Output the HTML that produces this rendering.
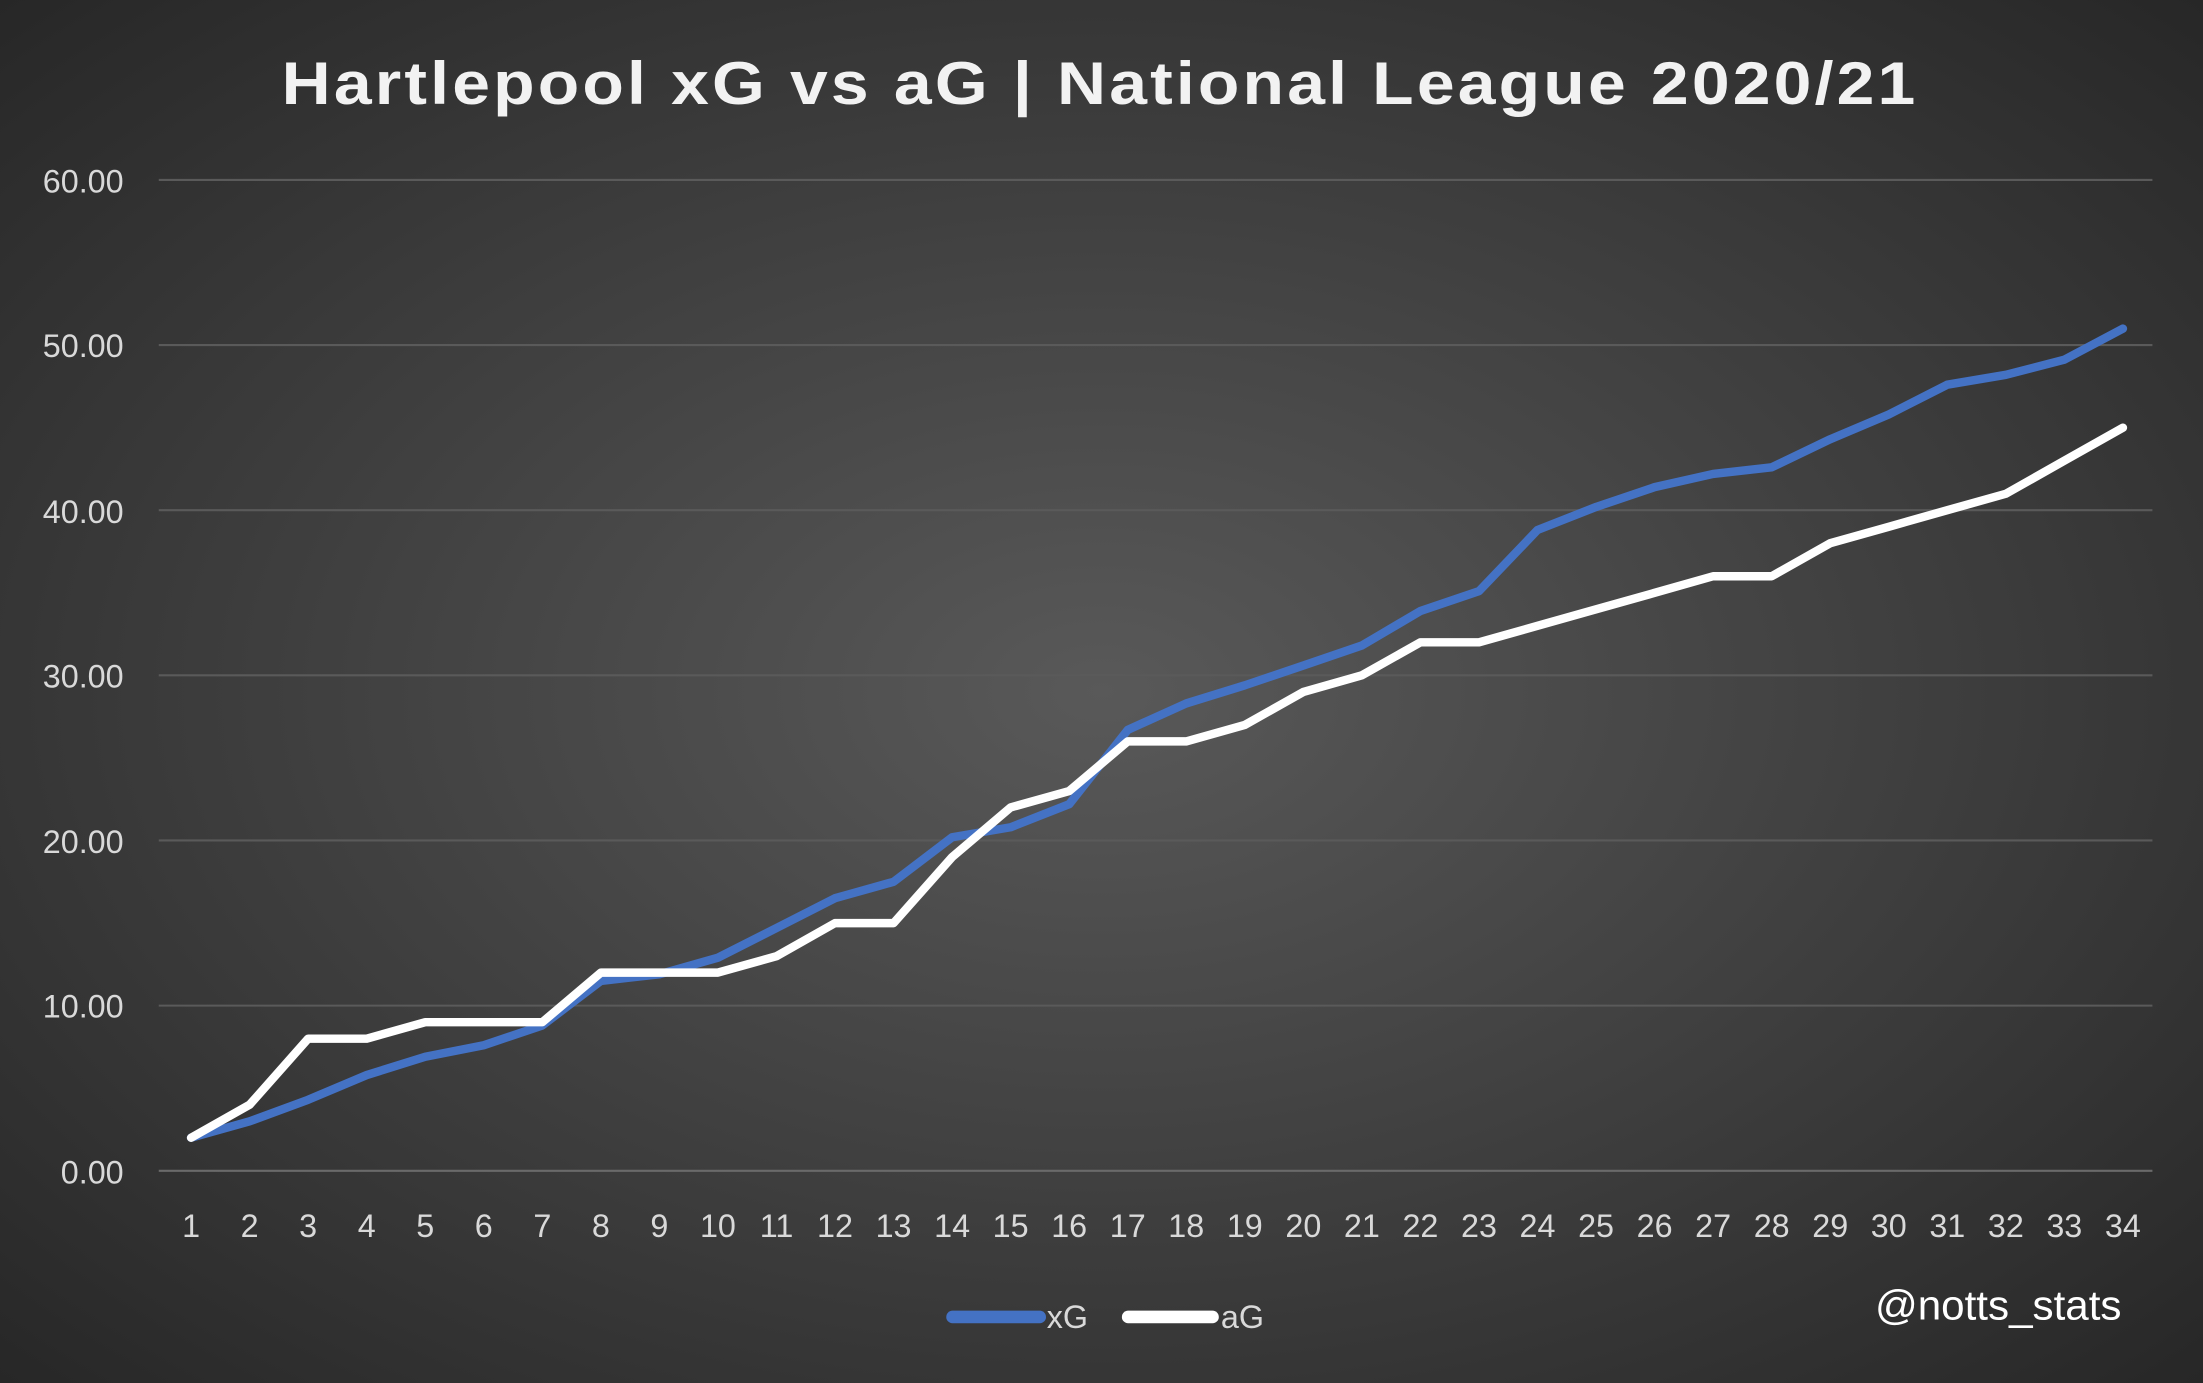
<!DOCTYPE html>
<html><head><meta charset="utf-8"><style>
html,body{margin:0;padding:0;width:2203px;height:1383px;overflow:hidden;background:#2a2a2a}
svg{display:block}
</style></head><body>
<svg width="2203" height="1383" viewBox="0 0 1568 984" preserveAspectRatio="none" xmlns="http://www.w3.org/2000/svg">
<defs>
<radialGradient id="bg" cx="0.5" cy="0.5" r="0.72">
<stop offset="0" stop-color="#595959"/>
<stop offset="1" stop-color="#262626"/>
</radialGradient>
</defs>
<rect width="1568" height="984" fill="url(#bg)"/>
<text x="783" y="74" text-anchor="middle" fill="#f2f2f2" font-family="Liberation Sans, sans-serif" font-weight="bold" font-size="43" letter-spacing="2" textLength="1165" lengthAdjust="spacingAndGlyphs">Hartlepool xG vs aG | National League 2020/21</text>
<g stroke="#5a5a5a" stroke-width="1.5">
<line x1="113" x2="1532" y1="128" y2="128"/>
<line x1="113" x2="1532" y1="245.5" y2="245.5"/>
<line x1="113" x2="1532" y1="363" y2="363"/>
<line x1="113" x2="1532" y1="480.5" y2="480.5"/>
<line x1="113" x2="1532" y1="598" y2="598"/>
<line x1="113" x2="1532" y1="715.5" y2="715.5"/>
<line x1="113" x2="1532" y1="833" y2="833" stroke="#6a6a6a"/>
</g>
<g fill="#d9d9d9" font-family="Liberation Sans, sans-serif" font-size="23" text-anchor="end">
<text x="88" y="137">60.00</text>
<text x="88" y="254">50.00</text>
<text x="88" y="372">40.00</text>
<text x="88" y="489">30.00</text>
<text x="88" y="607">20.00</text>
<text x="88" y="724">10.00</text>
<text x="88" y="842">0.00</text>
</g>
<g fill="#d9d9d9" font-family="Liberation Sans, sans-serif" font-size="23" text-anchor="middle">
<text x="136" y="880">1</text><text x="177.7" y="880">2</text><text x="219.3" y="880">3</text><text x="261" y="880">4</text><text x="302.7" y="880">5</text><text x="344.3" y="880">6</text><text x="386" y="880">7</text><text x="427.7" y="880">8</text><text x="469.3" y="880">9</text><text x="511" y="880">10</text><text x="552.7" y="880">11</text><text x="594.3" y="880">12</text><text x="636" y="880">13</text><text x="677.7" y="880">14</text><text x="719.3" y="880">15</text><text x="761" y="880">16</text><text x="802.7" y="880">17</text><text x="844.3" y="880">18</text><text x="886" y="880">19</text><text x="927.7" y="880">20</text><text x="969.3" y="880">21</text><text x="1011" y="880">22</text><text x="1052.7" y="880">23</text><text x="1094.3" y="880">24</text><text x="1136" y="880">25</text><text x="1177.7" y="880">26</text><text x="1219.3" y="880">27</text><text x="1261" y="880">28</text><text x="1302.7" y="880">29</text><text x="1344.3" y="880">30</text><text x="1386" y="880">31</text><text x="1427.7" y="880">32</text><text x="1469.3" y="880">33</text><text x="1511" y="880">34</text>
</g>
<polyline fill="none" stroke="#4472c4" stroke-width="6" stroke-linejoin="round" stroke-linecap="round" points="136,809.5 177.7,797.8 219.3,782.5 261,764.9 302.7,751.9 344.3,743.7 386,729.6 427.7,697.9 469.3,693.2 511,681.4 552.7,660.3 594.3,639.1 636,627.4 677.7,595.7 719.3,588.6 761,572.2 802.7,519.3 844.3,500.5 886,487.6 927.7,473.5 969.3,459.3 1011,434.7 1052.7,420.6 1094.3,377.1 1136,360.7 1177.7,346.6 1219.3,337.2 1261,332.5 1302.7,312.5 1344.3,294.9 1386,273.7 1427.7,266.7 1469.3,255.9 1511,233.8"/>
<polyline fill="none" stroke="#ffffff" stroke-width="6" stroke-linejoin="round" stroke-linecap="round" points="136,809.5 177.7,786 219.3,739 261,739 302.7,727.3 344.3,727.3 386,727.3 427.7,692 469.3,692 511,692 552.7,680.3 594.3,656.8 636,656.8 677.7,609.8 719.3,574.5 761,562.8 802.7,527.5 844.3,527.5 886,515.8 927.7,492.3 969.3,480.5 1011,457 1052.7,457 1094.3,445.3 1136,433.5 1177.7,421.8 1219.3,410 1261,410 1302.7,386.5 1344.3,374.8 1386,363 1427.7,351.3 1469.3,327.8 1511,304.3"/>
<line x1="678" x2="740" y1="937" y2="937" stroke="#4472c4" stroke-width="9" stroke-linecap="round"/>
<text x="745" y="945" fill="#d9d9d9" font-family="Liberation Sans, sans-serif" font-size="23">xG</text>
<line x1="803" x2="863" y1="937" y2="937" stroke="#ffffff" stroke-width="9" stroke-linecap="round"/>
<text x="869" y="945" fill="#d9d9d9" font-family="Liberation Sans, sans-serif" font-size="23">aG</text>
<text x="1510" y="939" text-anchor="end" fill="#ffffff" font-family="Liberation Sans, sans-serif" font-size="30">@notts_stats</text>
</svg>
</body></html>
